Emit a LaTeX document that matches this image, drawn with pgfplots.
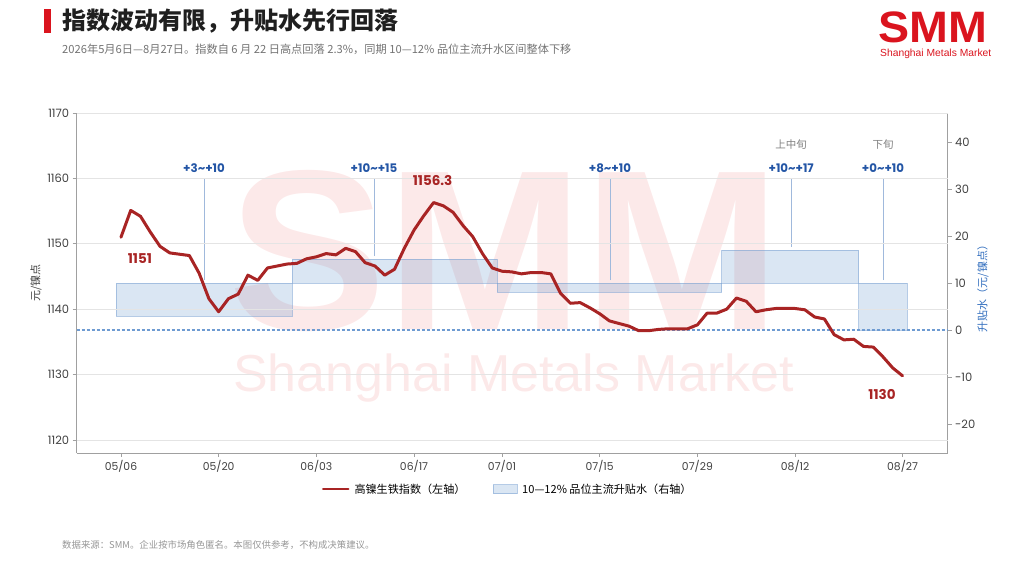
\documentclass[border=0pt]{standalone}
\usepackage{fontspec}
\setmainfont{Noto Sans CJK SC}
\newfontfamily\logofont{Liberation Sans}
\newfontfamily\pop{Poppins}
\usepackage{pgfplots}
\pgfplotsset{compat=1.18}
\definecolor{idxred}{RGB}{168,36,36}
\definecolor{boxfill}{RGB}{70,130,195}
\definecolor{boxdraw}{RGB}{120,160,210}
\definecolor{zeroline}{RGB}{110,155,210}
\definecolor{annblue}{RGB}{35,85,165}
\definecolor{annline}{RGB}{160,185,220}
\definecolor{wmpink}{RGB}{252,233,233}
\definecolor{gridgray}{RGB}{228,228,228}
\definecolor{axgray}{RGB}{160,160,160}
\definecolor{tickgray}{RGB}{65,65,65}
\definecolor{subgray}{RGB}{115,115,115}
\definecolor{footgray}{RGB}{150,150,150}
\definecolor{smmred}{RGB}{218,20,30}
\definecolor{ylabblue}{RGB}{50,110,190}

\pgfplotstableread{
x y
0 1151.0
1 1155.1
2 1154.2
3 1151.8
4 1149.6
5 1148.6
6 1148.4
7 1148.2
8 1145.5
9 1141.6
10 1139.6
11 1141.6
12 1142.3
13 1145.2
14 1144.4
15 1146.3
16 1146.6
17 1146.9
18 1147.0
19 1147.7
20 1148.0
21 1148.5
22 1148.3
23 1149.3
24 1148.8
25 1147.1
26 1146.6
27 1145.2
28 1146.1
29 1149.3
30 1152.1
31 1154.3
32 1156.3
33 1155.8
34 1154.8
35 1152.8
36 1151.1
37 1148.5
38 1146.3
39 1145.8
40 1145.7
41 1145.4
42 1145.6
43 1145.6
44 1145.4
45 1142.4
46 1140.9
47 1141.0
48 1140.2
49 1139.3
50 1138.2
51 1137.8
52 1137.4
53 1136.7
54 1136.7
55 1136.9
56 1137.0
57 1137.0
58 1137.0
59 1137.6
60 1139.4
61 1139.4
62 1140.0
63 1141.7
64 1141.2
65 1139.6
66 1139.9
67 1140.1
68 1140.1
69 1140.1
70 1139.9
71 1138.8
72 1138.5
73 1136.1
74 1135.3
75 1135.4
76 1134.3
77 1134.2
78 1132.7
79 1131.0
80 1129.8
}\idxdata

\begin{document}
\begin{tikzpicture}[x=1pt,y=1pt]
\path (0,0) rectangle (1024,567);
% header
\fill[smmred] (44,558) rectangle (51,534);
\node[anchor=west, inner sep=0, font=\bfseries\fontsize{24}{24}\selectfont, text=black!88] at (62,546) {指数波动有限，升贴水先行回落};
\node[anchor=west, inner sep=0, font=\fontsize{11.2}{11.2}\selectfont, text=subgray] at (62,518) {2026年5月6日—8月27日。指数自 6 月 22 日高点回落 2.3\%，同期 10—12\% 品位主流升水区间整体下移};
\node[anchor=base west, inner sep=0, font=\logofont\bfseries\fontsize{44}{44}\selectfont, text=smmred, xscale=1.06] at (878,524) {SMM};
\node[anchor=base west, inner sep=0, font=\logofont\fontsize{10.3}{10.3}\selectfont, text=smmred] at (880,510.5) {Shanghai Metals Market};
% watermark
\node[anchor=base west, inner sep=0, font=\logofont\bfseries\fontsize{228}{228}\selectfont, text=wmpink, xscale=1.04] at (228,237) {SMM};
\node[anchor=base west, inner sep=0, font=\logofont\fontsize{52}{52}\selectfont, text=wmpink] at (233,175) {Shanghai Metals Market};
% footnote
\node[anchor=west, inner sep=0, font=\fontsize{9.4}{9.4}\selectfont, text=footgray] at (62,22) {数据来源：SMM。企业按市场角色匿名。本图仅供参考，不构成决策建议。};
% axis labels
\node[rotate=90, inner sep=0, font=\fontsize{11}{11}\selectfont, text=tickgray] at (36,284) {元/镍点};
\node[rotate=90, inner sep=0, font=\fontsize{11}{11}\selectfont, text=ylabblue] at (983,281) {升贴水（元/镍点）};

% right axis: premium ranges
\begin{axis}[
  at={(76.7pt,114pt)}, anchor=south west, scale only axis,
  width=870.8pt, height=340pt,
  xmin=-4.53, xmax=84.6, ymin=-26.17, ymax=46.17,
  axis x line=none, axis y line*=right,
  axis line style={axgray, line width=0.8pt},
  ytick={-20,-10,0,10,20,30,40},
  yticklabels={-20,-10,0,10,20,30,40},
  tick align=outside, major tick length=4pt,
  tick style={axgray, line width=0.8pt},
  yticklabel style={font=\pop\fontsize{11.5}{11.5}\selectfont, text=tickgray},
  /pgf/number format/assume math mode=true,
  clip=false,
]
\addplot[fill=boxfill, fill opacity=0.2, draw=boxdraw, draw opacity=0.55, line width=0.7pt] coordinates {(-0.5,3) (17.5,3) (17.5,10) (-0.5,10)} --cycle;
\addplot[fill=boxfill, fill opacity=0.2, draw=boxdraw, draw opacity=0.55, line width=0.7pt] coordinates {(17.5,10) (38.5,10) (38.5,15) (17.5,15)} --cycle;
\addplot[fill=boxfill, fill opacity=0.2, draw=boxdraw, draw opacity=0.55, line width=0.7pt] coordinates {(38.5,8) (61.5,8) (61.5,10) (38.5,10)} --cycle;
\addplot[fill=boxfill, fill opacity=0.2, draw=boxdraw, draw opacity=0.55, line width=0.7pt] coordinates {(61.5,10) (75.5,10) (75.5,17) (61.5,17)} --cycle;
\addplot[fill=boxfill, fill opacity=0.2, draw=boxdraw, draw opacity=0.55, line width=0.7pt] coordinates {(75.5,0) (80.5,0) (80.5,10) (75.5,10)} --cycle;
\addplot[zeroline, line width=1.1pt, dash pattern=on 3pt off 2pt] coordinates {(-4.53,0) (84.6,0)};
\addplot[annline, line width=0.8pt] coordinates {(8.5,10.6) (8.5,32.3)};
\addplot[annline, line width=0.8pt] coordinates {(25.9,15.7) (25.9,32.3)};
\addplot[annline, line width=0.8pt] coordinates {(50.05,10.6) (50.05,32.3)};
\addplot[annline, line width=0.8pt] coordinates {(68.6,17.7) (68.6,32.3)};
\addplot[annline, line width=0.8pt] coordinates {(78.0,10.6) (78.0,32.3)};
\node[font=\pop\bfseries\fontsize{11.8}{11.8}\selectfont, text=annblue] at (axis cs:8.5,34.5) {+3\textasciitilde+10};
\node[font=\pop\bfseries\fontsize{11.8}{11.8}\selectfont, text=annblue] at (axis cs:25.9,34.5) {+10\textasciitilde+15};
\node[font=\pop\bfseries\fontsize{11.8}{11.8}\selectfont, text=annblue] at (axis cs:50.05,34.5) {+8\textasciitilde+10};
\node[font=\pop\bfseries\fontsize{11.8}{11.8}\selectfont, text=annblue] at (axis cs:68.6,34.5) {+10\textasciitilde+17};
\node[font=\pop\bfseries\fontsize{11.8}{11.8}\selectfont, text=annblue] at (axis cs:78.0,34.5) {+0\textasciitilde+10};
\node[font=\fontsize{10.5}{10.5}\selectfont, text=black!50] at (axis cs:68.6,39.4) {上中旬};
\node[font=\fontsize{10.5}{10.5}\selectfont, text=black!50] at (axis cs:78.0,39.4) {下旬};
\end{axis}

% left axis: index
\begin{axis}[
  at={(76.7pt,114pt)}, anchor=south west, scale only axis,
  width=870.8pt, height=340pt,
  xmin=-4.53, xmax=84.6, ymin=1118, ymax=1170,
  axis x line*=bottom, axis y line*=left,
  axis line style={axgray, line width=0.8pt},
  xtick={0,10,20,30,39,49,59,69,80},
  xticklabels={05/06,05/20,06/03,06/17,07/01,07/15,07/29,08/12,08/27},
  ytick={1120,1130,1140,1150,1160,1170},
  yticklabels={1120,1130,1140,1150,1160,1170},
  ymajorgrids, grid style={gridgray, line width=0.8pt},
  tick align=outside, major tick length=4pt,
  tick style={axgray, line width=0.8pt},
  xticklabel style={font=\pop\fontsize{10.8}{10.8}\selectfont, text=tickgray},
  yticklabel style={font=\pop\fontsize{11.5}{11.5}\selectfont, text=tickgray},
  /pgf/number format/assume math mode=true,
  clip=false,
  legend style={at={(0.495,-0.106)}, anchor=center, draw=none, fill=none,
    font=\fontsize{11.1}{11.1}\selectfont, legend columns=2,
    /tikz/every odd column/.append style={column sep=3pt},
    /tikz/every even column/.append style={column sep=25pt}},
  legend cell align=left,
]
\addplot[idxred, line width=3pt, line join=round, line cap=round,
  legend image code/.code={\draw[idxred, line width=2.6pt] (0pt,0pt) -- (25pt,0pt);}] table[x=x,y=y] {\idxdata};
\addlegendentry{高镍生铁指数（左轴）}
\addlegendimage{legend image code/.code={\draw[fill=boxfill, fill opacity=0.2, draw=boxdraw, draw opacity=0.55, line width=0.7pt] (0pt,-4.5pt) rectangle (24pt,4.5pt);}}
\addlegendentry{10—12\% 品位主流升贴水（右轴）}
\node[font=\pop\bfseries\fontsize{13.5}{13.5}\selectfont, text=idxred] at (axis cs:1.94,1147.7) {1151};
\node[font=\pop\bfseries\fontsize{13.5}{13.5}\selectfont, text=idxred] at (axis cs:31.9,1159.6) {1156.3};
\node[font=\pop\bfseries\fontsize{13.5}{13.5}\selectfont, text=idxred] at (axis cs:77.9,1126.9) {1130};
\end{axis}
\end{tikzpicture}
\end{document}
